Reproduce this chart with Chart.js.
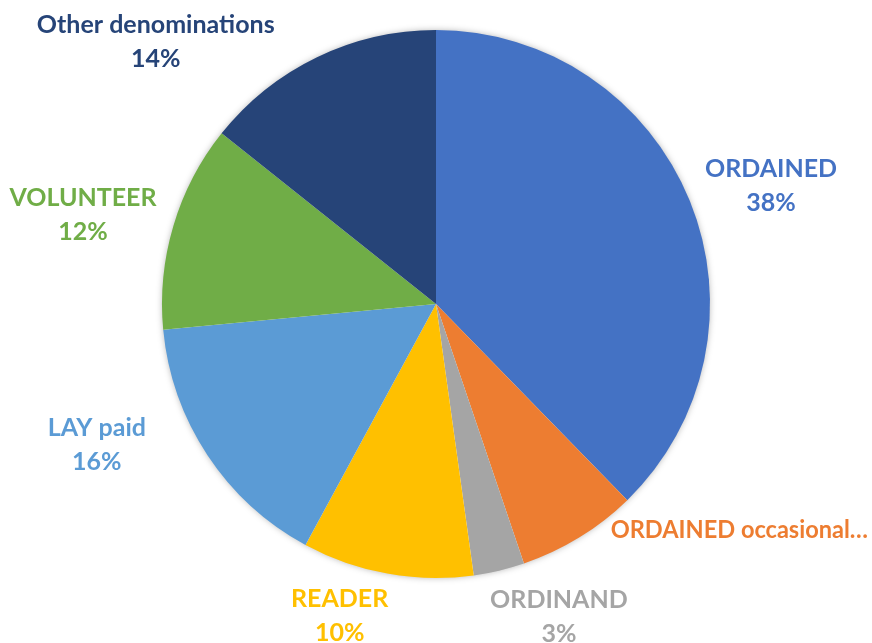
<!DOCTYPE html>
<html>
<head>
<meta charset="utf-8">
<script src="https://cdn.jsdelivr.net/npm/chart.js@4"></script>
<style>
  html, body { margin: 0; padding: 0; background: #fff; }
  #wrap { width: 872px; height: 643px; }
</style>
</head>
<body>
<div id="wrap"><canvas id="roleChart"></canvas></div>
<script>
const categories = [
  "ORDAINED",
  "ORDAINED occasional\u2026",
  "ORDINAND",
  "READER",
  "LAY paid",
  "VOLUNTEER",
  "Other denominations",
];
const shares = [37.7, 7.1, 3.0, 10.1, 15.6, 12.2, 14.3];
const colours = ["#4472C4", "#ED7D31", "#A5A5A5", "#FFC000", "#5B9BD5", "#70AD47", "#264478"];

// label placement tweaks: [degrees along the rim, extra px outward, dx, dy]
const labelShift = [
  [0, 0, -5, 8],
  [-14.4, 0, -3, 5],
  [-8, 4, -13, -3],
  [9, 3, 20, -7],
  [9.6, 23, 2, -4],
  [-2.3, 0, 10, -7],
  [-14.8, 19, 5, 7],
];

const FONT = "bold 25px Lato";
const LINE = 34;

const pieShadow = {
  id: "pieShadow",
  beforeDatasetsDraw(chart) {
    const arc = chart.getDatasetMeta(0).data[0];
    const ctx = chart.ctx;
    ctx.save();
    ctx.shadowColor = "rgba(0,0,0,0.35)";
    ctx.shadowBlur = 7;
    ctx.fillStyle = "#fff";
    ctx.beginPath();
    ctx.arc(arc.x, arc.y, arc.outerRadius - 1, 0, Math.PI * 2);
    ctx.fill();
    ctx.restore();
  },
};

const outsideLabels = {
  id: "outsideLabels",
  afterDatasetsDraw(chart) {
    const ctx = chart.ctx;
    const total = shares.reduce((a, b) => a + b, 0);
    ctx.save();
    ctx.font = FONT;
    ctx.textBaseline = "middle";
    chart.getDatasetMeta(0).data.forEach((arc, i) => {
      const name = categories[i];
      const lines = name.endsWith("\u2026")
        ? [name]
        : [name, Math.round(shares[i] / total * 100) + "%"];
      const w = Math.max(...lines.map(t => ctx.measureText(t).width));
      const h = lines.length * LINE;
      const s = labelShift[i];
      const a = (arc.startAngle + arc.endAngle) / 2 + s[0] * Math.PI / 180;
      const d = arc.outerRadius + 27 + s[1];
      const cx = arc.x + Math.cos(a) * (d + w / 2) + s[2];
      const cy = arc.y + Math.sin(a) * d + Math.sin(a) * h / 2 + s[3];
      ctx.fillStyle = colours[i];
      const left = cx - w / 2;
      const room = chart.width - 4 - left;
      lines.forEach((t, k) => {
        const y = cy - h / 2 + LINE / 2 + k * LINE;
        if (w > room) {
          ctx.textAlign = "left";
          ctx.fillText(t, left, y, room);
        } else {
          ctx.textAlign = "center";
          ctx.fillText(t, cx, y);
        }
      });
    });
    ctx.restore();
  },
};

new Chart(document.getElementById("roleChart"), {
  type: "pie",
  data: {
    labels: categories,
    datasets: [{
      data: shares,
      backgroundColor: colours,
      borderWidth: 0,
    }],
  },
  options: {
    responsive: true,
    maintainAspectRatio: false,
    animation: false,
    layout: { padding: { top: 30, bottom: 65, left: 0, right: 0 } },
    plugins: {
      legend: { display: false },
      tooltip: { enabled: false },
    },
  },
  plugins: [pieShadow, outsideLabels],
});
</script>
</body>
</html>
